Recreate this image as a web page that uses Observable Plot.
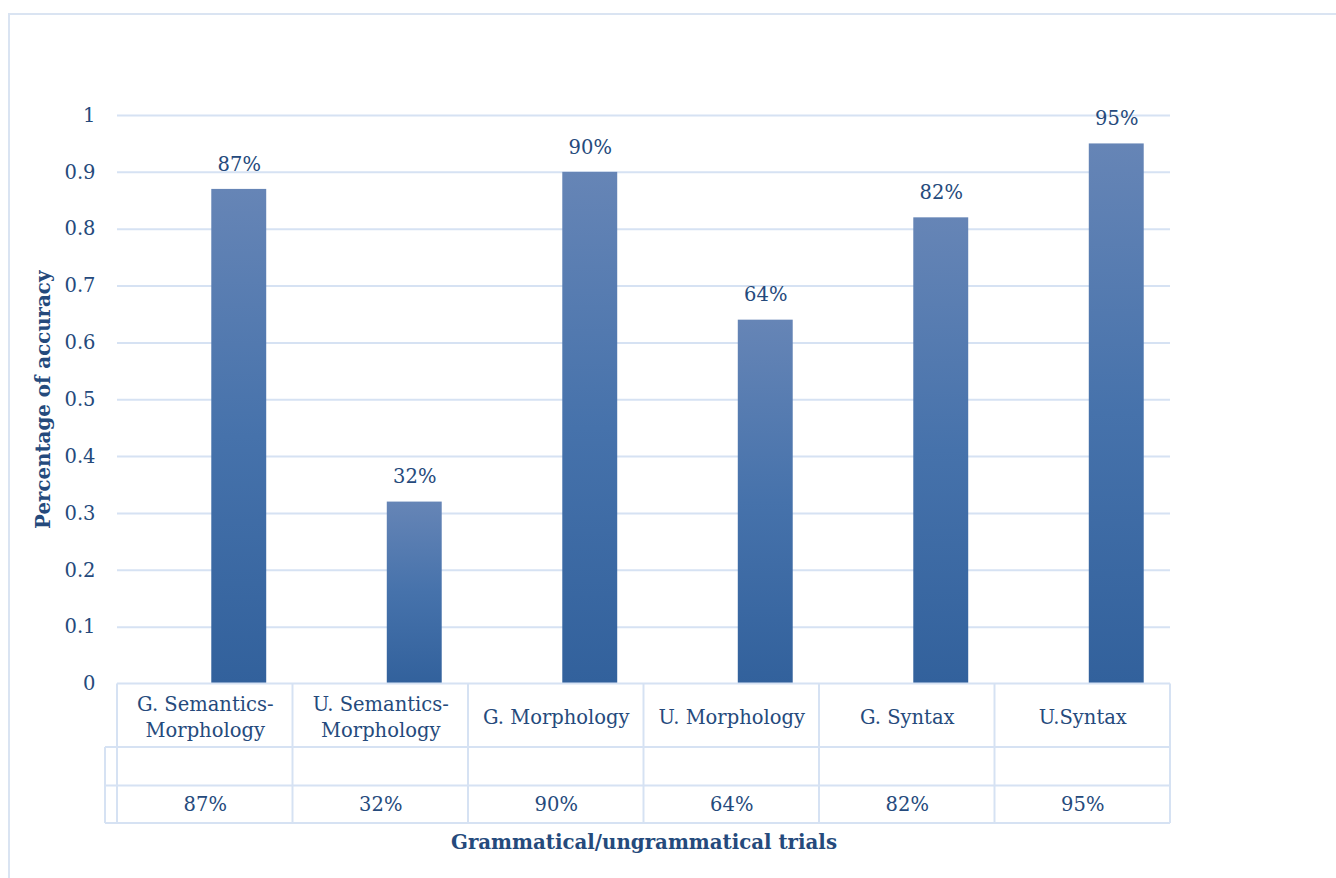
<!DOCTYPE html>
<html>
<head>
<meta charset="utf-8">
<script src="https://cdn.jsdelivr.net/npm/d3@7"></script>
<script src="https://cdn.jsdelivr.net/npm/@observablehq/plot@0.6"></script>
<style>
  body { margin: 0; background: #ffffff; }
  #chart svg { display: block; }
</style>
</head>
<body>
<div id="chart"></div>
<script>
// ---- data ----
const categories = [
  "G. Semantics-\nMorphology",
  "U. Semantics-\nMorphology",
  "G. Morphology",
  "U. Morphology",
  "G. Syntax",
  "U.Syntax"
];
const accuracy = [0.87, 0.32, 0.90, 0.64, 0.82, 0.95];
const valueLabels = ["87%", "32%", "90%", "64%", "82%", "95%"];
const yTicks = [0, 0.1, 0.2, 0.3, 0.4, 0.5, 0.6, 0.7, 0.8, 0.9, 1];
const yTitle = "Percentage of accuracy";
const xTitle = "Grammatical/ungrammatical trials";

const rows = categories.map((c, i) => ({category: c, value: accuracy[i], label: valueLabels[i]}));

// ---- style ----
const textColor = "#254a7c";
const lineColor = "#d6e2f3";
const font = "'DejaVu Serif', serif";
const row1 = 63.5, row2 = 38.5, row3 = 37.5;

function defsMark() {
  const svg = d3.create("svg:defs");
  const g = svg.append("linearGradient").attr("id", "barGrad")
    .attr("x1", 0).attr("y1", 0).attr("x2", 0).attr("y2", 1);
  g.append("stop").attr("offset", "0%").attr("stop-color", "#6685b6");
  g.append("stop").attr("offset", "50%").attr("stop-color", "#4672ab");
  g.append("stop").attr("offset", "100%").attr("stop-color", "#32619c");
  return svg.node();
}

function frameBorder(index, scales, values, dims) {
  const g = d3.create("svg:g");
  g.append("rect").attr("x", 9).attr("y", 14)
    .attr("width", dims.width).attr("height", dims.height)
    .attr("fill", "none").attr("stroke", "#dae4f2").attr("stroke-width", 2);
  return g.node();
}

function tableMark(index, scales, values, dims) {
  const x = scales.x, y = scales.y;
  const step = x(categories[1]) - x(categories[0]);
  const left = dims.marginLeft;
  const right = left + step * categories.length;
  const y0 = y(0);
  const ys = [y0, y0 + row1, y0 + row1 + row2, y0 + row1 + row2 + row3];
  const keyLeft = left - 12;
  const g = d3.create("svg:g").attr("stroke", lineColor).attr("stroke-width", 2).attr("fill", "none");
  for (let i = 0; i <= categories.length; i++) {
    const xx = left + i * step;
    g.append("line").attr("x1", xx).attr("x2", xx).attr("y1", y0).attr("y2", ys[3]);
  }
  g.append("line").attr("x1", left).attr("x2", right).attr("y1", ys[0]).attr("y2", ys[0]);
  for (let k = 1; k <= 3; k++) {
    g.append("line").attr("x1", keyLeft).attr("x2", right).attr("y1", ys[k]).attr("y2", ys[k]);
  }
  g.append("line").attr("x1", keyLeft).attr("x2", keyLeft).attr("y1", ys[1]).attr("y2", ys[3]);
  return g.node();
}

const chart = Plot.plot({
  width: 1336,
  height: 878,
  marginLeft: 117,
  marginRight: 166,
  marginTop: 115,
  marginBottom: 194.5,
  style: {color: textColor, fontFamily: font, fontSize: "19.5px", background: "#ffffff"},
  x: {type: "band", domain: categories, paddingInner: 0.687, paddingOuter: 0.3435, align: 0.5, round: false, axis: null},
  y: {domain: [0, 1], axis: null},
  marks: [
    frameBorder,
    defsMark,
    Plot.ruleY(yTicks.filter(d => d > 0), {stroke: lineColor, strokeWidth: 2}),
    Plot.axisY({ticks: yTicks, tickSize: 0, tickPadding: 22, tickFormat: d => String(+d.toFixed(1)),
      label: null, fontSize: 19.5, fill: textColor}),
    Plot.barY(rows, {x: "category", y: "value", fill: "url(#barGrad)", dx: 34}),
    Plot.text(rows, {x: "category", y: "value", text: "label", dx: 34, dy: -25, fill: textColor, fontSize: 19.5}),
    tableMark,
    Plot.text(rows, {x: "category", text: "category", frameAnchor: "bottom", lineAnchor: "middle", dy: 32, lineHeight: 1.33, fill: textColor, fontSize: 19.5}),
    Plot.text(rows, {x: "category", text: "label", frameAnchor: "bottom", lineAnchor: "middle", dy: 121, fill: textColor, fontSize: 19.5}),
    Plot.text([yTitle], {frameAnchor: "left", textAnchor: "middle", lineAnchor: "middle", dx: -74, rotate: -90, fontWeight: "bold", fontSize: 19.8, fill: textColor}),
    Plot.text([xTitle], {frameAnchor: "bottom", textAnchor: "middle", lineAnchor: "middle", dy: 158.5, fontWeight: "bold", fontSize: 19.8, fill: textColor})
  ]
});
document.getElementById("chart").appendChild(chart);
</script>
</body>
</html>
